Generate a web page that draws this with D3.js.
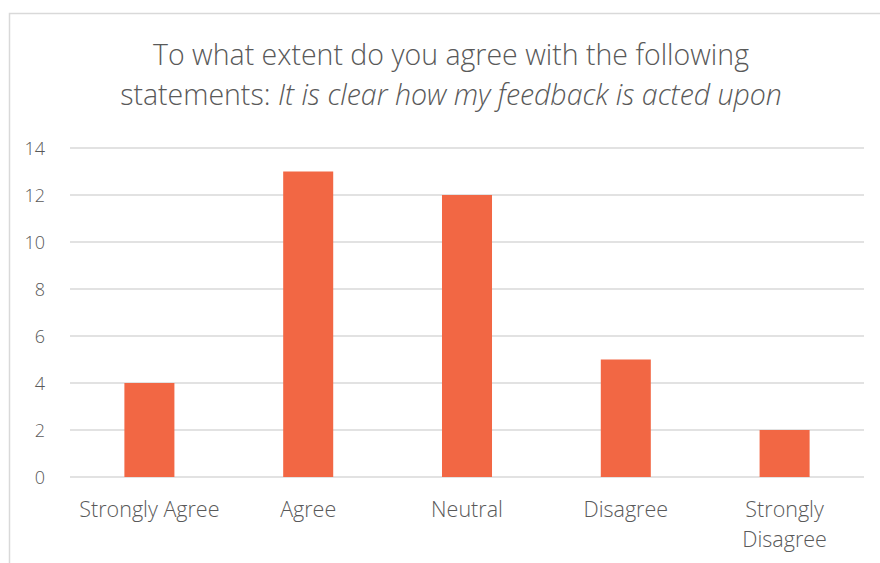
<!DOCTYPE html>
<html>
<head>
<meta charset="utf-8">
<script src="https://cdn.jsdelivr.net/npm/d3@7"></script>
<style>
  body { margin: 0; background: #fff; }
  svg { display: block; font-family: "Open Sans", Lato, sans-serif; font-weight: 350; }
</style>
</head>
<body>
<svg id="chart" width="880" height="563"></svg>
<script>
const categories = [["Strongly Agree"], ["Agree"], ["Neutral"], ["Disagree"], ["Strongly", "Disagree"]];
const counts = [4, 13, 12, 5, 2];
const yTicks = [0, 2, 4, 6, 8, 10, 12, 14];

const svg = d3.select("#chart");
const margin = { top: 148, right: 16, bottom: 86, left: 70 };
const width = 864 - margin.left;
const height = 477 - margin.top;

// chart frame
svg.append("rect")
  .attr("x", 9.5).attr("y", 13.5)
  .attr("width", 900).attr("height", 600)
  .attr("fill", "none").attr("stroke", "#d9d9d9").attr("stroke-width", 1.5);

// title
const title = svg.append("text")
  .attr("text-anchor", "middle")
  .attr("fill", "#595959")
  .attr("font-size", 28.5);
title.append("tspan").attr("x", 451).attr("y", 65)
  .text("To what extent do you agree with the following");
const t2 = title.append("tspan").attr("x", 451).attr("y", 105);
t2.append("tspan").text("statements: ");
t2.append("tspan").attr("font-style", "italic").text("It is clear how my feedback is acted upon");

const g = svg.append("g").attr("transform", `translate(${margin.left},${margin.top})`);

const x = d3.scaleBand()
  .domain(categories.map(d => d.join(" ")))
  .range([0, width])
  .paddingInner(0.685)
  .paddingOuter(0.3425);

const y = d3.scaleLinear().domain([0, 14]).range([height, 0]);

// gridlines
g.append("g")
  .selectAll("line")
  .data(yTicks)
  .join("line")
  .attr("x1", 0).attr("x2", width)
  .attr("y1", d => y(d)).attr("y2", d => y(d))
  .attr("stroke", "#d9d9d9").attr("stroke-width", 1.5);

// y axis labels
const yAxis = g.append("g")
  .call(d3.axisLeft(y).tickValues(yTicks).tickSize(0).tickPadding(25));
yAxis.select(".domain").remove();
yAxis.selectAll("text")
  .attr("fill", "#595959")
  .attr("font-size", 18)
  .attr("font-family", "'Open Sans', sans-serif")
  .attr("font-weight", 350)
  .attr("dy", "0.36em");

// bars
g.append("g")
  .selectAll("rect")
  .data(counts)
  .join("rect")
  .attr("x", (d, i) => x(categories[i].join(" ")))
  .attr("width", x.bandwidth())
  .attr("y", d => y(d))
  .attr("height", d => height - y(d))
  .attr("fill", "#f26744");

// x labels
const xl = g.append("g")
  .selectAll("text")
  .data(categories)
  .join("text")
  .attr("text-anchor", "middle")
  .attr("fill", "#595959")
  .attr("font-size", 21.5)
  .attr("transform", d => `translate(${x(d.join(" ")) + x.bandwidth() / 2},${height + 40})`);
xl.selectAll("tspan")
  .data(d => d)
  .join("tspan")
  .attr("x", 0)
  .attr("y", (d, i) => i * 30)
  .text(d => d);
</script>
</body>
</html>
